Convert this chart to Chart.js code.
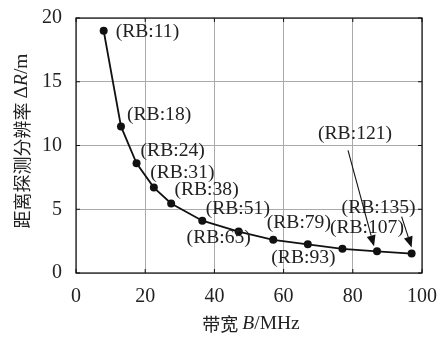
<!DOCTYPE html>
<html><head><meta charset="utf-8">
<script src="https://cdn.jsdelivr.net/npm/chart.js@4"></script>
<style>html,body{margin:0;padding:0;background:#fff;}canvas{display:block}</style>
</head><body>
<canvas id="c" width="438" height="338"></canvas>
<script>
// ---- data ----
const bandwidthMHz = [8, 13, 17.5, 22.5, 27.5, 36.5, 47, 57, 67, 77, 87, 97];
const rangeResolution = [19, 11.5, 8.6, 6.7, 5.45, 4.1, 3.25, 2.6, 2.25, 1.9, 1.7, 1.52];
const rbLabels = ['(RB:11)', '(RB:18)', '(RB:24)', '(RB:31)', '(RB:38)', '(RB:51)', '(RB:65)', '(RB:79)', '(RB:93)', '(RB:107)', '(RB:121)', '(RB:135)'];
const xTicks = [0, 20, 40, 60, 80, 100];
const yTicks = [0, 5, 10, 15, 20];
const xTitle = ['带宽 ', 'B', '/MHz'];
const yTitle = ['距离探测分辨率 ', 'Δ', 'R', '/m'];

// ---- styles (label placement relative to each point) ----
const labelOffsets = [[12,1],[6,-12],[4,-12.5],[-3.6,-15],[3.3,-14],[3.4,-12],[-52,6.5],[-6.5,-17],[-36.5,13.5],[-12.5,-21],[-59,-117],[-70,-46]];
const arrows = {10: [[-29,-101],[-3,-5]], 11: [[-10,-37],[0,-6]]};
const SERIF = '"Liberation Serif","Times New Roman",serif';
const CJK = '"Noto Sans CJK SC","Noto Sans CJK JP",sans-serif';
const TXT = '#222';

function drawArrow(ctx, x1, y1, x2, y2) {
  const ang = Math.atan2(y2 - y1, x2 - x1);
  const L = 11, W = 4.5;
  const bx = x2 - L * Math.cos(ang), by = y2 - L * Math.sin(ang);
  ctx.beginPath(); ctx.moveTo(x1, y1); ctx.lineTo(bx, by); ctx.stroke();
  ctx.beginPath();
  ctx.moveTo(x2, y2);
  ctx.lineTo(bx + W * Math.sin(ang), by - W * Math.cos(ang));
  ctx.lineTo(bx - W * Math.sin(ang), by + W * Math.cos(ang));
  ctx.closePath(); ctx.fill();
}

function drawRuns(ctx, runs, x, y, align) {
  let total = 0;
  runs.forEach(r => { ctx.font = r.font; total += ctx.measureText(r.t).width; });
  let cx = align === 'center' ? x - total / 2 : x;
  runs.forEach(r => { ctx.font = r.font; ctx.fillText(r.t, cx, y); cx += ctx.measureText(r.t).width; });
}

const decor = {
  id: 'decor',
  afterDraw(chart) {
    const ctx = chart.ctx, a = chart.chartArea;
    const xs = chart.scales.x, ys = chart.scales.y;
    ctx.save();
    // frame
    ctx.strokeStyle = '#111'; ctx.lineWidth = 1.2;
    ctx.strokeRect(a.left, a.top, a.right - a.left, a.bottom - a.top);
    // inward ticks
    ctx.lineWidth = 1;
    ctx.beginPath();
    xTicks.forEach(v => { const p = xs.getPixelForValue(v); ctx.moveTo(p, a.bottom); ctx.lineTo(p, a.bottom - 4); ctx.moveTo(p, a.top); ctx.lineTo(p, a.top + 4); });
    yTicks.forEach(v => { const p = ys.getPixelForValue(v); ctx.moveTo(a.left, p); ctx.lineTo(a.left + 4, p); ctx.moveTo(a.right, p); ctx.lineTo(a.right - 4, p); });
    ctx.stroke();
    // point labels
    const meta = chart.getDatasetMeta(0);
    ctx.fillStyle = TXT; ctx.font = '19.6px ' + SERIF;
    ctx.textBaseline = 'middle'; ctx.textAlign = 'left';
    meta.data.forEach((pt, i) => {
      const o = labelOffsets[i];
      ctx.fillText(rbLabels[i], pt.x + o[0], pt.y + o[1]);
    });
    // arrows
    ctx.strokeStyle = '#111'; ctx.fillStyle = '#111'; ctx.lineWidth = 1.1;
    Object.keys(arrows).forEach(k => {
      const pt = meta.data[+k], ar = arrows[k];
      drawArrow(ctx, pt.x + ar[0][0], pt.y + ar[0][1], pt.x + ar[1][0], pt.y + ar[1][1]);
    });
    // axis titles
    ctx.fillStyle = TXT; ctx.textAlign = 'left'; ctx.textBaseline = 'middle';
    drawRuns(ctx, [
      {t: xTitle[0], font: '18px ' + CJK},
      {t: xTitle[1], font: 'italic 19.5px ' + SERIF},
      {t: xTitle[2], font: '19.5px ' + SERIF}
    ], (a.left + a.right) / 2 + 2, 324, 'center');
    ctx.translate(22, 141);
    ctx.rotate(-Math.PI / 2);
    drawRuns(ctx, [
      {t: yTitle[0], font: '18px ' + CJK},
      {t: yTitle[1], font: '19.5px ' + SERIF},
      {t: yTitle[2], font: 'italic 19.5px ' + SERIF},
      {t: yTitle[3], font: '19.5px ' + SERIF}
    ], 0, 0, 'center');
    ctx.restore();
  }
};

new Chart(document.getElementById('c'), {
  type: 'scatter',
  data: {
    datasets: [{
      data: bandwidthMHz.map((x, i) => ({x, y: rangeResolution[i]})),
      showLine: true,
      borderColor: '#111',
      backgroundColor: '#111',
      borderWidth: 1.8,
      pointRadius: 4,
      pointBorderWidth: 0,
      tension: 0
    }]
  },
  options: {
    responsive: false,
    devicePixelRatio: 1,
    animation: false,
    layout: {padding: {top: 18, right: 16, left: 0, bottom: 0}},
    plugins: {legend: {display: false}, tooltip: {enabled: false}},
    scales: {
      x: {
        type: 'linear', min: 0, max: 100,
        afterBuildTicks: s => { s.ticks = xTicks.map(v => ({value: v})); },
        afterFit: s => { s.height = 65; s.paddingLeft = 0; s.paddingRight = 0; s.paddingTop = 0; s.paddingBottom = 0; },
        grid: {color: '#aaa', lineWidth: 1, drawTicks: false},
        border: {display: false},
        ticks: {padding: 12, color: TXT, font: {family: SERIF, size: 20}, maxRotation: 0}
      },
      y: {
        type: 'linear', min: 0, max: 20,
        afterBuildTicks: s => { s.ticks = yTicks.map(v => ({value: v})); },
        afterFit: s => { s.width = 76; s.paddingLeft = 0; s.paddingRight = 0; s.paddingTop = 0; s.paddingBottom = 0; },
        grid: {color: '#aaa', lineWidth: 1, drawTicks: false},
        border: {display: false},
        ticks: {padding: 14, color: TXT, font: {family: SERIF, size: 20}}
      }
    }
  },
  plugins: [decor]
});
</script>
</body></html>
